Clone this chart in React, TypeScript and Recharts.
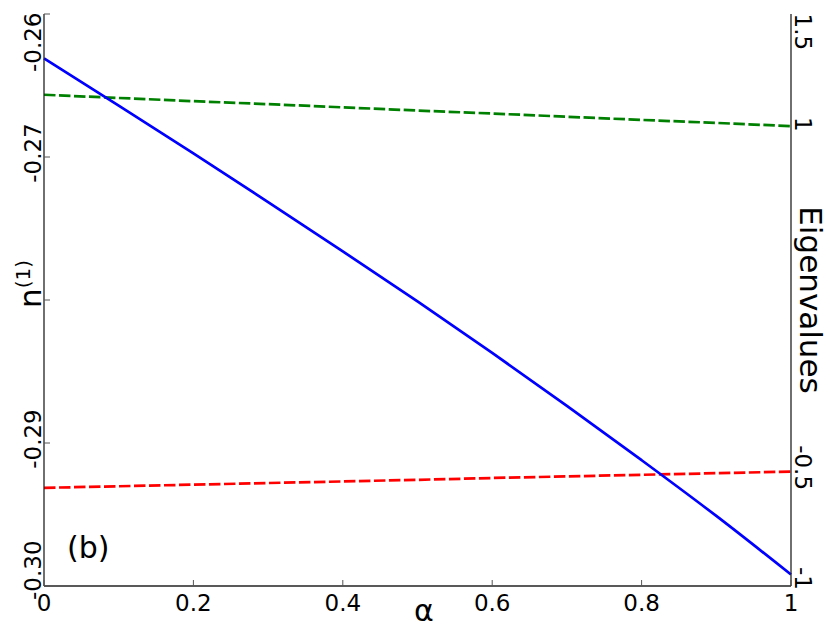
import React from 'react';
import { ComposedChart, Line, XAxis, YAxis } from 'recharts';

// values
const alpha = [0, 0.1, 0.2, 0.3, 0.4, 0.5, 0.6, 0.7, 0.8, 0.9, 1];
const n1 = [-0.2631, -0.2664, -0.26975, -0.27315, -0.2766, -0.2801, -0.2837, -0.2874, -0.2912, -0.2951, -0.2992];
const eigUpper = [1.147, 1.133, 1.119, 1.106, 1.092, 1.078, 1.065, 1.051, 1.037, 1.024, 1.01];
const eigLower = [-0.571, -0.564, -0.557, -0.55, -0.543, -0.536, -0.528, -0.521, -0.514, -0.507, -0.5];

const alphaTicks = [0, 0.2, 0.4, 0.6, 0.8, 1];
const alphaTickLabels = ['0', '0.2', '0.4', '0.6', '0.8', '1'];
const n1Ticks = [-0.3, -0.29, -0.28, -0.27, -0.26];
const n1TickLabels = ['-0.30', '-0.29', '', '-0.27', '-0.26']; // -0.28 sits under the axis title
const eigTicks = [-1, -0.5, 0, 0.5, 1, 1.5];
const eigTickLabels = ['-1', '-0.5', '', '', '1', '1.5'];

const data = alpha.map((a, i) => ({
  alpha: a,
  n1: n1[i],
  upper: eigUpper[i],
  lower: eigLower[i],
}));

const FONT = 'DejaVu Sans';
const TICK_FONT = 23;
const LABEL_FONT = 31;
const FRAME = '#222';
const TICK_COLOR = '#555';

const BottomTick = (props: any) => {
  const { x, y, index } = props;
  return (
    <g>
      <line x1={x} y1={y} x2={x} y2={y - 6} stroke={TICK_COLOR} strokeWidth={1} />
      <text x={x} y={y + 25} textAnchor="middle" fontSize={TICK_FONT} fontFamily={FONT} fill="#000">
        {alphaTickLabels[index]}
      </text>
    </g>
  );
};

const TopTick = (props: any) => {
  const { x, y } = props;
  return <line x1={x} y1={y} x2={x} y2={y + 6} stroke={TICK_COLOR} strokeWidth={1} />;
};

const LeftTick = (props: any) => {
  const { x, y, index } = props;
  const last = n1Ticks.length - 1;
  let anchor = 'middle';
  let ty = y - 4;
  if (index === 0) {
    anchor = 'start';
    ty = y + 14;
  } else if (index === last) {
    anchor = 'end';
    ty = y - 1.5;
  }
  const tx = x - 3.5;
  return (
    <g>
      <line x1={x} y1={y} x2={x + 6} y2={y} stroke={TICK_COLOR} strokeWidth={1} />
      <text
        x={tx}
        y={ty}
        transform={`rotate(-90 ${tx} ${ty})`}
        textAnchor={anchor}
        fontSize={TICK_FONT}
        fontFamily={FONT}
        fill="#000"
      >
        {n1TickLabels[index]}
      </text>
    </g>
  );
};

const RightTick = (props: any) => {
  const { x, y, index } = props;
  const last = eigTicks.length - 1;
  let anchor = 'middle';
  let ty = y - 4;
  if (index === 0) {
    anchor = 'end';
    ty = y + 4;
  } else if (index === last) {
    anchor = 'start';
    ty = y - 0.5;
  }
  const tx = x + 4;
  return (
    <text
      x={tx}
      y={ty}
      transform={`rotate(90 ${tx} ${ty})`}
      textAnchor={anchor}
      fontSize={TICK_FONT}
      fontFamily={FONT}
      fill="#000"
    >
      {eigTickLabels[index]}
    </text>
  );
};

export default function App(): React.JSX.Element {
  return (
    <div style={{ position: 'absolute', left: 0, top: 0, width: 830, height: 629, background: '#fff' }}>
      <ComposedChart width={830} height={629} data={data} margin={{ top: 14, right: 0, bottom: 0, left: 0 }}>
        <XAxis
          dataKey="alpha"
          type="number"
          domain={[0, 1]}
          ticks={alphaTicks}
          height={43}
          tickSize={0}
          tickMargin={0}
          tickLine={false}
          tick={BottomTick}
          axisLine={{ stroke: FRAME, strokeWidth: 1.3 }}
          interval={0}
        />
        <XAxis
          xAxisId="top"
          orientation="top"
          dataKey="alpha"
          type="number"
          domain={[0, 1]}
          ticks={alphaTicks}
          height={0}
          tickSize={0}
          tickMargin={0}
          tickLine={false}
          tick={TopTick}
          axisLine={{ stroke: FRAME, strokeWidth: 1.3 }}
          interval={0}
        />
        <YAxis
          yAxisId="n1"
          orientation="left"
          type="number"
          domain={[-0.3, -0.26]}
          ticks={n1Ticks}
          width={44}
          tickSize={0}
          tickMargin={0}
          tickLine={false}
          tick={LeftTick}
          axisLine={{ stroke: FRAME, strokeWidth: 1.3 }}
          allowDataOverflow
          interval={0}
        />
        <YAxis
          yAxisId="eig"
          orientation="right"
          type="number"
          domain={[-1, 1.5]}
          ticks={eigTicks}
          width={39}
          tickSize={0}
          tickMargin={0}
          tickLine={false}
          tick={RightTick}
          axisLine={{ stroke: FRAME, strokeWidth: 1.3 }}
          allowDataOverflow
          interval={0}
        />
        <Line
          yAxisId="eig"
          dataKey="upper"
          type="linear"
          stroke="#008000"
          strokeWidth={2.7}
          strokeDasharray="11.5 3.5"
          dot={false}
          isAnimationActive={false}
        />
        <Line
          yAxisId="eig"
          dataKey="lower"
          type="linear"
          stroke="#ff0000"
          strokeWidth={2.7}
          strokeDasharray="11.5 3.5"
          dot={false}
          isAnimationActive={false}
        />
        <Line
          yAxisId="n1"
          dataKey="n1"
          type="monotone"
          stroke="#0000ff"
          strokeWidth={2.7}
          dot={false}
          isAnimationActive={false}
        />
        <text x={424} y={621} textAnchor="middle" fontSize={30} fontFamily={FONT} fill="#000">
          α
        </text>
        <text
          x={41}
          y={284}
          transform="rotate(-90 41 284)"
          textAnchor="middle"
          fontSize={LABEL_FONT}
          fontFamily={FONT}
          fill="#000"
        >
          n
          <tspan fontSize={20} dy={-11.5}>
            (1)
          </tspan>
        </text>
        <text
          x={800}
          y={300}
          transform="rotate(90 800 300)"
          textAnchor="middle"
          fontSize={LABEL_FONT}
          fontFamily={FONT}
          fill="#000"
        >
          Eigenvalues
        </text>
        <text x={67} y={558} fontSize={30} fontFamily={FONT} fill="#000">
          (b)
        </text>
      </ComposedChart>
    </div>
  );
}
